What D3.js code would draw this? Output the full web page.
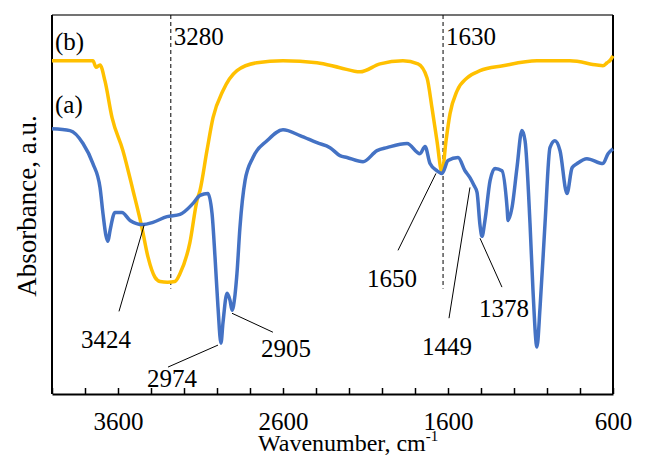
<!DOCTYPE html>
<html>
<head>
<meta charset="utf-8">
<script src="https://cdn.jsdelivr.net/npm/d3@7"></script>
<style>
  body { margin: 0; background: #fff; }
</style>
</head>
<body>
<div id="chart"></div>
<script>
var svgWidth = 645;
var svgHeight = 456;
var serif = '"Liberation Serif", "Times New Roman", serif';

var margin = { top: 15, right: 32, bottom: 62, left: 52 };
var chartWidth = svgWidth - margin.left - margin.right;
var chartHeight = svgHeight - margin.top - margin.bottom;

// spectrum (b): wavenumber, absorbance (a.u.)
var waveB = [4000, 3752, 3733, 3709, 3679, 3636, 3570, 3509, 3455, 3418, 3376, 3345, 3300, 3255, 3224, 3164, 3121, 3103, 3061, 3024, 2964, 2879, 2758, 2600, 2394, 2255, 2133, 2012, 1873, 1782, 1727, 1697, 1667, 1636, 1612, 1588, 1545, 1485, 1406, 1267, 1061, 861, 697, 661, 636, 618, 600];
var absB  = [0.879, 0.879, 0.862, 0.868, 0.826, 0.729, 0.642, 0.537, 0.439, 0.361, 0.308, 0.297, 0.295, 0.297, 0.318, 0.400, 0.511, 0.537, 0.642, 0.729, 0.800, 0.853, 0.874, 0.879, 0.874, 0.861, 0.850, 0.871, 0.879, 0.871, 0.834, 0.755, 0.668, 0.584, 0.668, 0.739, 0.800, 0.834, 0.853, 0.866, 0.879, 0.879, 0.868, 0.866, 0.874, 0.880, 0.892];

// spectrum (a)
var waveA = [4000, 3891, 3812, 3752, 3709, 3691, 3673, 3661, 3648, 3618, 3576, 3527, 3448, 3388, 3303, 3224, 3145, 3103, 3055, 3030, 3012, 2994, 2976, 2964, 2939, 2921, 2909, 2891, 2879, 2861, 2830, 2782, 2697, 2600, 2497, 2394, 2315, 2255, 2212, 2115, 2030, 1970, 1848, 1770, 1739, 1709, 1667, 1636, 1600, 1539, 1497, 1467, 1442, 1424, 1406, 1394, 1376, 1345, 1315, 1273, 1242, 1236, 1212, 1182, 1152, 1133, 1103, 1085, 1061, 1042, 1012, 982, 952, 921, 879, 848, 818, 758, 661, 630, 600];
var absA  = [0.700, 0.695, 0.661, 0.608, 0.545, 0.476, 0.418, 0.403, 0.432, 0.479, 0.479, 0.458, 0.447, 0.453, 0.468, 0.474, 0.503, 0.524, 0.529, 0.476, 0.361, 0.229, 0.134, 0.187, 0.266, 0.247, 0.221, 0.261, 0.318, 0.439, 0.563, 0.624, 0.668, 0.697, 0.682, 0.663, 0.650, 0.629, 0.624, 0.613, 0.642, 0.650, 0.661, 0.634, 0.653, 0.608, 0.589, 0.582, 0.616, 0.624, 0.589, 0.571, 0.550, 0.532, 0.445, 0.416, 0.458, 0.563, 0.595, 0.589, 0.492, 0.458, 0.492, 0.597, 0.695, 0.668, 0.450, 0.274, 0.124, 0.229, 0.450, 0.650, 0.668, 0.642, 0.529, 0.597, 0.608, 0.621, 0.608, 0.634, 0.647];

var seriesNames = ["(a)", "(b)"];
var seriesColors = ["#4472C4", "#FFC000"];

// dashed reference lines (wavenumber, lower end absorbance)
var markWave = [3280, 1630];
var markLow = [0.278, 0.278];

// peak labels: text, tip (wn, abs), tail (wn, abs), label (wn, abs)
var peakText = ["3424", "2974", "2905", "1650", "1449", "1378"];
var peakTip  = [[3442, 0.445], [2994, 0.129], [2909, 0.213], [1673, 0.582], [1467, 0.545], [1406, 0.411]];
var peakTail = [[3594, 0.218], [3297, 0.071], [2661, 0.163], [1903, 0.379], [1594, 0.200], [1273, 0.282]];
var peakLab  = [[3673, 0.121], [3273, 0.018], [2582, 0.097], [1939, 0.282], [1606, 0.103], [1261, 0.203]];

var tickValues = d3.range(600, 4001, 200);
var labelledTicks = [3600, 2600, 1600, 600];

var svg = d3.select("#chart")
  .append("svg")
  .attr("width", svgWidth)
  .attr("height", svgHeight);

var chartGroup = svg.append("g")
  .attr("transform", `translate(${margin.left}, ${margin.top})`);

var xScale = d3.scaleLinear().domain([4000, 600]).range([0, chartWidth]);
var yScale = d3.scaleLinear().domain([0, 1]).range([chartHeight, 0]);

// frame
chartGroup.append("line")
  .attr("x1", 0).attr("x2", chartWidth).attr("y1", 0).attr("y2", 0)
  .attr("stroke", "#444").attr("stroke-width", 1.3);
chartGroup.append("line")
  .attr("x1", chartWidth).attr("x2", chartWidth).attr("y1", 0).attr("y2", chartHeight)
  .attr("stroke", "#000").attr("stroke-width", 2);
chartGroup.append("line")
  .attr("x1", 0).attr("x2", 0).attr("y1", 0).attr("y2", chartHeight)
  .attr("stroke", "#000").attr("stroke-width", 2);

// bottom axis, ticks point inward
var bottomAxis = d3.axisBottom(xScale)
  .tickValues(tickValues)
  .tickSizeInner(-6)
  .tickSizeOuter(0)
  .tickPadding(18)
  .tickFormat(d => labelledTicks.indexOf(d) >= 0 ? d : "");

var xAxisG = chartGroup.append("g")
  .attr("transform", `translate(0, ${chartHeight})`)
  .call(bottomAxis);
xAxisG.select(".domain").attr("stroke", "#000").attr("stroke-width", 2);
xAxisG.selectAll(".tick line").attr("stroke", "#000").attr("stroke-width", 1.5);
xAxisG.selectAll(".tick text")
  .style("font-family", serif)
  .style("font-size", "25px")
  .attr("fill", "#000");

// dashed lines
markWave.forEach(function(w, i) {
  chartGroup.append("line")
    .attr("x1", xScale(w)).attr("x2", xScale(w))
    .attr("y1", 0).attr("y2", yScale(markLow[i]))
    .attr("stroke", "#000").attr("stroke-width", 1)
    .attr("stroke-dasharray", "4,3");
  chartGroup.append("text")
    .attr("x", xScale(w) + 3).attr("y", 30)
    .style("font-family", serif)
    .style("font-size", "25px")
    .text(w);
});

// spectra
var line = d3.line()
  .x(d => xScale(d[0]))
  .y(d => yScale(d[1]))
  .curve(d3.curveMonotoneX);

var specB = waveB.map((w, i) => [w, absB[i]]);
var specA = waveA.map((w, i) => [w, absA[i]]);

chartGroup.append("path")
  .datum(specB)
  .attr("fill", "none")
  .attr("stroke", seriesColors[1])
  .attr("stroke-width", 3.5)
  .attr("stroke-linejoin", "round")
  .attr("d", line);

chartGroup.append("path")
  .datum(specA)
  .attr("fill", "none")
  .attr("stroke", seriesColors[0])
  .attr("stroke-width", 3.5)
  .attr("stroke-linejoin", "round")
  .attr("d", line);

// series names
chartGroup.append("text").attr("x", 3).attr("y", 35)
  .style("font-family", serif).style("font-size", "25px").text(seriesNames[1]);
chartGroup.append("text").attr("x", 3).attr("y", 98)
  .style("font-family", serif).style("font-size", "25px").text(seriesNames[0]);

// peak leaders and labels
peakText.forEach(function(t, i) {
  chartGroup.append("line")
    .attr("x1", xScale(peakTip[i][0])).attr("y1", yScale(peakTip[i][1]))
    .attr("x2", xScale(peakTail[i][0])).attr("y2", yScale(peakTail[i][1]))
    .attr("stroke", "#000").attr("stroke-width", 1);
  chartGroup.append("text")
    .attr("x", xScale(peakLab[i][0])).attr("y", yScale(peakLab[i][1]))
    .attr("text-anchor", "middle")
    .style("font-family", serif)
    .style("font-size", "25px")
    .text(t);
});

// axis titles
var xTitle = svg.append("text")
  .attr("x", 258).attr("y", 451)
  .style("font-family", serif)
  .style("font-size", "24px");
xTitle.append("tspan").text("Wavenumber, cm");
xTitle.append("tspan").attr("dy", -10).style("font-size", "15px").text("-1");

svg.append("text")
  .attr("transform", "translate(36, 206) rotate(-90)")
  .attr("text-anchor", "middle")
  .style("font-family", serif)
  .style("font-size", "27px")
  .text("Absorbance, a.u.");
</script>
</body>
</html>
